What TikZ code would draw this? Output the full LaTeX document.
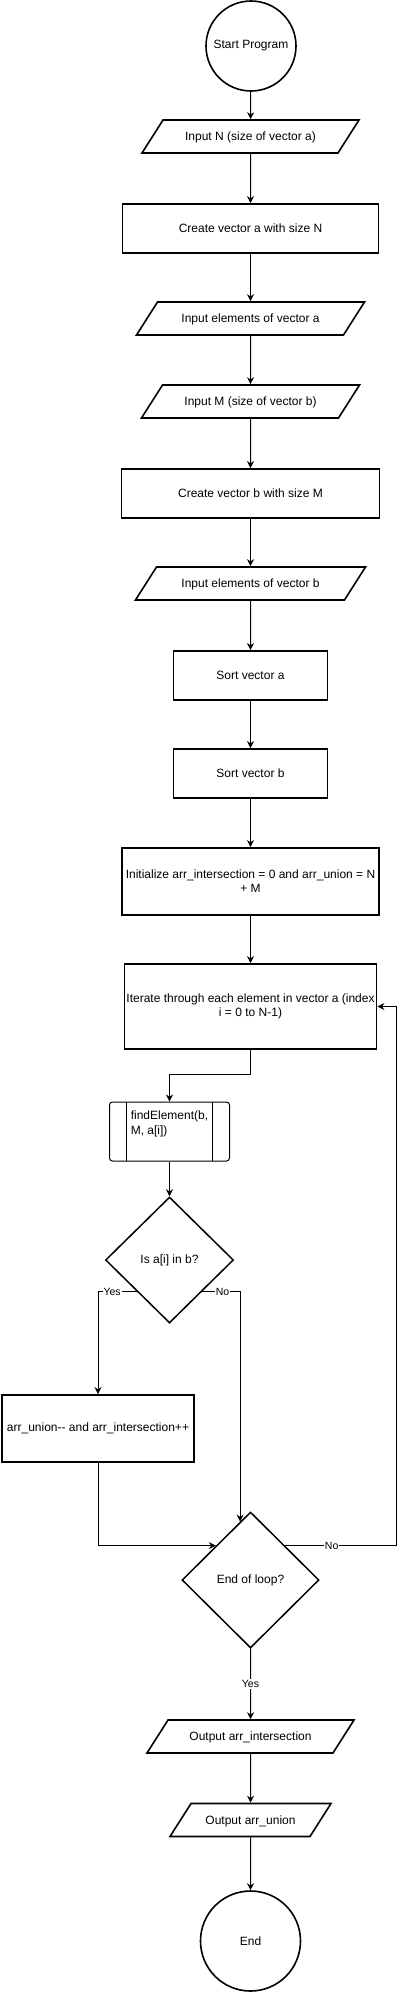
\documentclass[tikz,border=0pt]{standalone}
\usepackage{fontspec}
\setmainfont{Liberation Sans}
\usetikzlibrary{shapes.geometric,arrows.meta,calc}

\begin{document}
\begin{tikzpicture}[x=1pt, y=-1pt, >={Stealth[length=7pt,width=7pt]}, line width=1pt,
  every node/.style={font=\fontsize{12}{14}\selectfont},
  term node/.style={circle, draw, line width=1.6pt, inner sep=0pt},
  proc node/.style={rectangle, draw, line width=1.8pt, align=center},
  io node/.style={trapezium, trapezium left angle=57.5, trapezium right angle=122.5, trapezium stretches body, draw, line width=1.6pt, inner ysep=0pt, text height=20.8pt, text depth=12.2pt},
  dec node/.style={diamond, draw, line width=1.5pt, inner sep=0pt},
  sub node/.style={rectangle, rounded corners=3pt, draw, line width=1pt, minimum width=120pt, align=left, font=\fontsize{12}{15}\selectfont, inner ysep=0pt, text height=32.5pt, text depth=26.5pt,
    path picture={\draw[line width=1pt] ([xshift=17pt]path picture bounding box.north west) -- ([xshift=17pt]path picture bounding box.south west);
      \draw[line width=1pt] ([xshift=-17pt]path picture bounding box.north east) -- ([xshift=-17pt]path picture bounding box.south east);}},
  yn label/.style={fill=white, font=\fontsize{10.5}{12}\selectfont, inner sep=1pt}]

                \useasboundingbox (0,0) rectangle (404,1992);

                \node[term node, minimum size=90pt] at (251, 46) (start) {Start Program};
                \node[io node, minimum width=217pt] at (250.5, 136.5) (inN) {Input N (size of vector a)};
                \node[proc node, minimum width=256pt, minimum height=49pt] at (250.5, 228.5) (cra) {Create vector a with size N};
                \node[io node, minimum width=228pt] at (250.5, 318.5) (ina) {Input elements of vector a};
                \node[io node, minimum width=218pt] at (250.5, 401.5) (inM) {Input M (size of vector b)};
                \node[proc node, minimum width=258pt, minimum height=49pt] at (250.5, 493.5) (crb) {Create vector b with size M};
                \node[io node, minimum width=230pt] at (250.5, 583.5) (inb) {Input elements of vector b};
                \node[proc node, minimum width=154pt, minimum height=49pt] at (250.5, 675.5) (sorta) {Sort vector a};
                \node[proc node, minimum width=154pt, minimum height=49pt] at (250.5, 773.5) (sortb) {Sort vector b};
                \node[proc node, minimum width=257pt, minimum height=67pt, inner xsep=1pt] at (250.5, 881.5) (init) {Initialize arr\_intersection = 0 and arr\_union = N\\+ M};
                \node[proc node, minimum width=252pt, minimum height=85pt, inner xsep=1pt] at (250.5, 1006.5) (iter) {Iterate through each element in vector a (index\\i = 0 to N-1)};
                \node[sub node] at (169.5, 1131.5) (find) {findElement(b,\\M, a[i])};
                \node[dec node, minimum width=128pt, minimum height=126pt] at (169.5, 1260) (isin) {Is a[i] in b?};
                \node[proc node, minimum width=192pt, minimum height=67pt] at (98, 1428.5) (union) {arr\_union-{}- and arr\_intersection++};
                \node[dec node, minimum width=137pt, minimum height=136pt] at (250.5, 1580) (endloop) {End of loop?};
                \node[io node, minimum width=207pt] at (250.5, 1736.5) (outi) {Output arr\_intersection};
                \node[io node, minimum width=161pt] at (250.5, 1820) (outu) {Output arr\_union};
                \node[term node, minimum size=100pt] at (250.5, 1941) (fin) {End};

                \coordinate (loopr) at (396, 1006.5);

                \path[->] (start) edge[] node {} (inN);
                \path[->] (inN) edge[] node {} (cra);
                \path[->] (cra) edge[] node {} (ina);
                \path[->] (ina) edge[] node {} (inM);
                \path[->] (inM) edge[] node {} (crb);
                \path[->] (crb) edge[] node {} (inb);
                \path[->] (inb) edge[] node {} (sorta);
                \path[->] (sorta) edge[] node {} (sortb);
                \path[->] (sortb) edge[] node {} (init);
                \path[->] (init) edge[] node {} (iter);
                \draw[->] (iter.south) -- ++(0,25) -| (find.north);
                \path[->] (find) edge[] node {} (isin);
                \draw[->] (isin.south west) -| node[yn label, pos=0.32] {Yes} (union.north);
                \draw[->] (isin.south east) -| node[yn label, pos=0.27] {No} ($(endloop.north)!0.15!(endloop.west)$);
                \draw[->] (union.south) |- (endloop.north west);
                \draw[->] (endloop.north east) -| node[yn label, pos=0.21] {No} (loopr) -- (iter.east);
                \path[->] (endloop) edge[] node[yn label] {Yes} (outi);
                \path[->] (outi) edge[] node {} (outu);
                \path[->] (outu) edge[] node {} (fin);
            \end{tikzpicture}
\end{document}
